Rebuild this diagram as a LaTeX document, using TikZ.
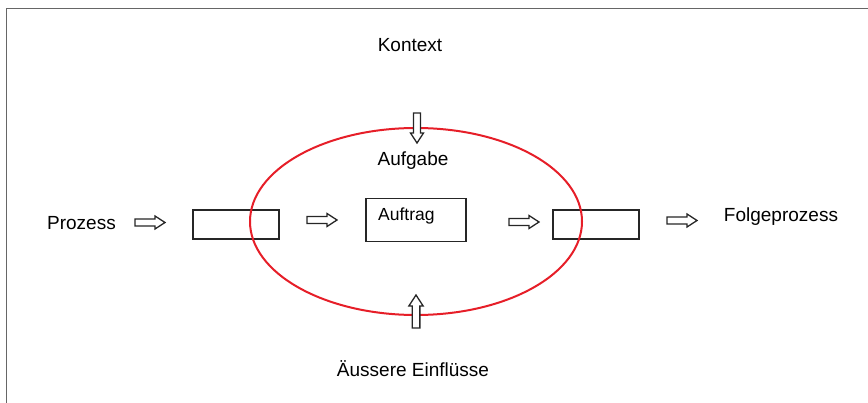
\documentclass[tikz,border=0pt]{standalone}
\usepackage{fontspec}
\setmainfont{Liberation Sans}
\usetikzlibrary{shapes.geometric}
\definecolor{ellred}{RGB}{230,30,40}
\begin{document}
\begin{tikzpicture}[x=1pt,y=-1pt,
  lbl/.style={font=\fontsize{19}{22}\selectfont, inner sep=0pt, anchor=base},
  box/.style={draw=black!85, line width=1.3pt, inner sep=0pt},
  harrow/.pic={\draw[line width=1.3pt, draw=black!85, fill=white, line join=miter]
     (0,-3.5) -- (20,-3.5) -- (20,-6.5) -- (30,0) -- (20,6.5) -- (20,3.5) -- (0,3.5) -- cycle;},
  frameline/.style={draw=black!60, line width=1.8pt}]
\useasboundingbox (0,0) rectangle (868,403);
% frame
\coordinate (fTR) at (868,8.5);
\coordinate (fTL) at (6.5,8.5);
\coordinate (fBL) at (6.5,403);
\draw[frameline] (fTR) -- (fTL) -- (fBL);
% labels
\node[lbl] (kontext) at (410,51.5) {Kontext};
\node[lbl] (aufgabe) at (413,166) {Aufgabe};
\node[lbl] (prozess) at (81.5,230) {Prozess};
\node[lbl] (folge) at (781,222) {Folgeprozess};
\node[lbl] (aussen) at (413,377) {Äussere Einflüsse};
% boxes
\node[box, minimum width=86pt, minimum height=29pt] (b1) at (236,224.5) {};
\node[box, minimum width=100pt, minimum height=43pt] (b2) at (416,220) {};
\node[lbl, font=\fontsize{17.5}{20}\selectfont, anchor=base west] (auftrag) at (378,221) {Auftrag};
\node[box, minimum width=86pt, minimum height=29pt] (b3) at (596,224.5) {};
% ellipse
\node[draw=ellred, line width=2pt, ellipse, minimum width=332pt, minimum height=187pt, inner sep=0pt] (ell) at (416,221.5) {};
% arrows
\pic at (135,222.5) {harrow};
\pic at (307,220) {harrow};
\pic at (509,222) {harrow};
\pic at (667,220.5) {harrow};
\pic[rotate=-90] at (417,113) {harrow};
\pic[rotate=90, scale=1.1] at (416,328) {harrow};
\end{tikzpicture}
\end{document}
